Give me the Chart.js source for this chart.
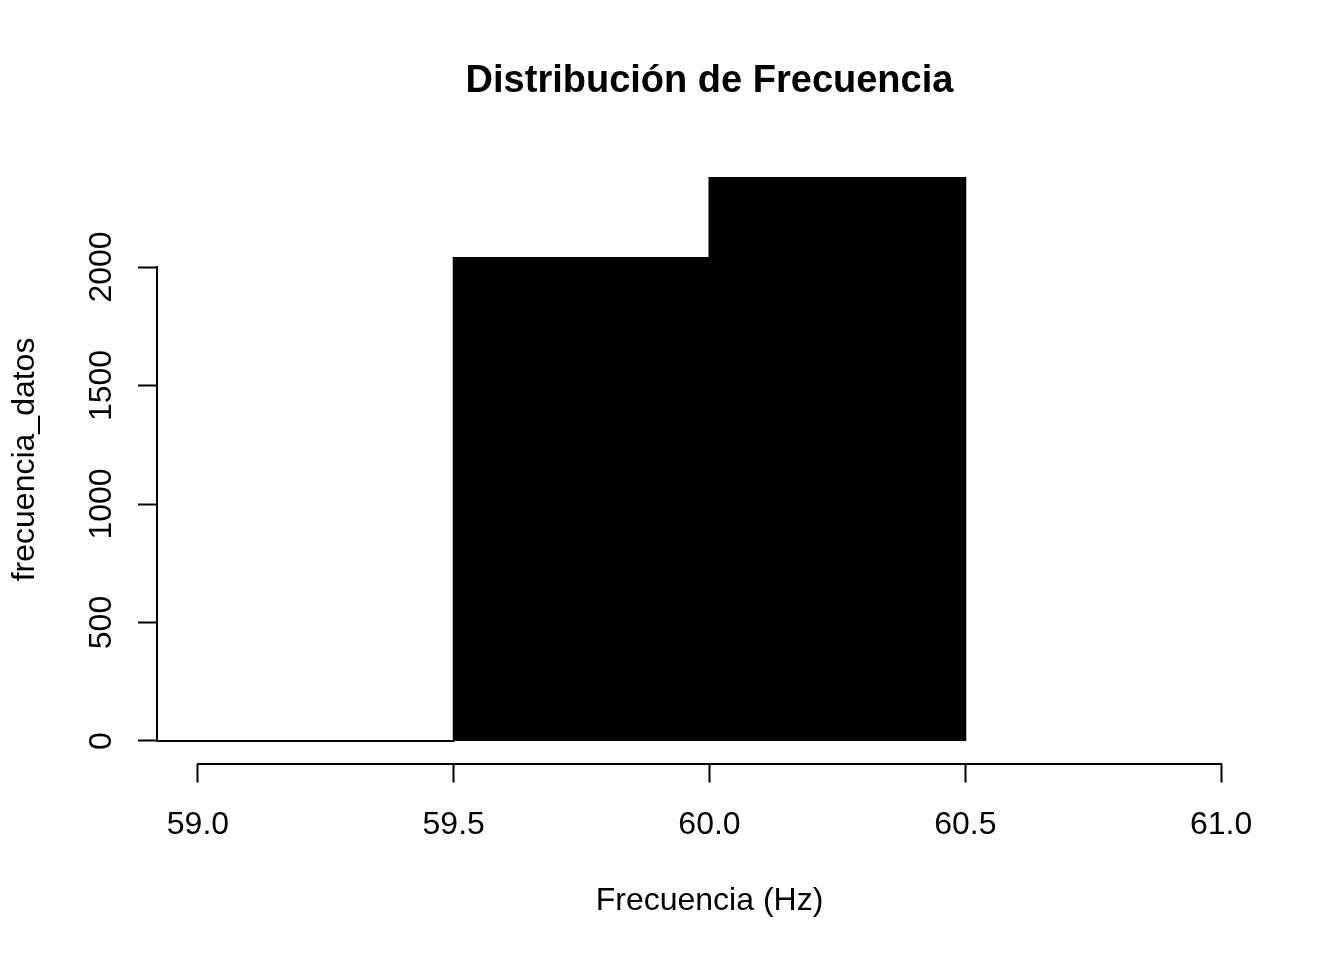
<!DOCTYPE html>
<html>
<head>
<meta charset="utf-8">
<script src="https://cdn.jsdelivr.net/npm/chart.js@4.4.0/dist/chart.umd.min.js"></script>
<style>
  html, body { margin: 0; padding: 0; background: #ffffff; }
  canvas { display: block; }
</style>
</head>
<body>
<canvas id="c" width="1344" height="960"></canvas>
<script>
// ---- data ----
const breaks = [58.5, 59.5, 60.0, 60.5];
const counts = [0, 2038, 2376];
const xTicks = [59.0, 59.5, 60.0, 60.5, 61.0];
const yTicks = [0, 500, 1000, 1500, 2000];
const titleText = 'Distribución de Frecuencia';
const xTitle = 'Frecuencia (Hz)';
const yTitle = 'frecuencia_datos';

const FONT = "'Liberation Sans', Arial, sans-serif";

// stepped outline points built from breaks/counts
const stepPoints = breaks.map((b, i) => ({ x: b, y: i < counts.length ? counts[i] : 0 }));

const xMin = 59.0, xMax = 61.0;
const xPad = (xMax - xMin) * 0.04;
const yMaxData = Math.max(...counts);
const yPad = yMaxData * 0.04;

const rAxes = {
  id: 'rAxes',
  afterDraw(chart) {
    const ctx = chart.ctx;
    const xs = chart.scales.x, ys = chart.scales.y;
    const ca = chart.chartArea;
    ctx.save();
    ctx.strokeStyle = '#000';
    ctx.lineWidth = 2;
    ctx.lineCap = 'butt';
    // x axis line
    const xb = Math.round(ca.bottom);
    ctx.beginPath();
    ctx.moveTo(xs.getPixelForValue(xTicks[0]) - 1, xb);
    ctx.lineTo(xs.getPixelForValue(xTicks[xTicks.length - 1]) + 1, xb);
    ctx.stroke();
    // y axis line
    const yl = Math.round(ca.left);
    ctx.beginPath();
    ctx.moveTo(yl, ys.getPixelForValue(yTicks[0]) + 1);
    ctx.lineTo(yl, ys.getPixelForValue(yTicks[yTicks.length - 1]) - 1);
    ctx.stroke();

    ctx.fillStyle = '#000';
    // title
    ctx.font = 'bold 38px ' + FONT;
    ctx.textAlign = 'center';
    ctx.textBaseline = 'middle';
    ctx.fillText(titleText, (ca.left + ca.right) / 2, 81.5);
    // x title
    ctx.font = '32px ' + FONT;
    ctx.fillText(xTitle, (ca.left + ca.right) / 2, 901.5);
    // y title
    ctx.save();
    ctx.translate(25, (ca.top + ca.bottom) / 2);
    ctx.rotate(-Math.PI / 2);
    ctx.fillText(yTitle, 0, 0);
    ctx.restore();
    ctx.restore();
  }
};

new Chart(document.getElementById('c'), {
  type: 'line',
  data: {
    datasets: [{
      data: stepPoints,
      stepped: 'before',
      fill: 'origin',
      backgroundColor: '#000000',
      borderColor: '#000000',
      borderWidth: 2,
      pointRadius: 0,
      tension: 0
    }]
  },
  options: {
    responsive: false,
    devicePixelRatio: 1,
    animation: false,
    layout: { padding: { left: 0, top: 155.4, right: 82, bottom: 96.5 } },
    plugins: { legend: { display: false }, title: { display: false }, tooltip: { enabled: false } },
    scales: {
      x: {
        type: 'linear',
        min: xMin - xPad,
        max: xMax + xPad,
        afterBuildTicks(scale) { scale.ticks = xTicks.map(v => ({ value: v })); },
        afterFit(scale) { scale.height = 100; },
        border: { display: false },
        grid: { display: true, drawOnChartArea: false, drawTicks: true, tickLength: 19, tickWidth: 2, tickColor: '#000' },
        ticks: {
          color: '#000',
          font: { family: FONT, size: 32 },
          padding: 23,
          maxRotation: 0,
          autoSkip: false,
          callback: v => v.toFixed(1)
        }
      },
      y: {
        type: 'linear',
        min: -yPad,
        max: yMaxData + yPad,
        afterBuildTicks(scale) { scale.ticks = yTicks.map(v => ({ value: v })); },
        afterFit(scale) { scale.width = 157; },
        border: { display: false },
        grid: { display: true, drawOnChartArea: false, drawTicks: true, tickLength: 19, tickWidth: 2, tickColor: '#000' },
        ticks: {
          color: '#000',
          font: { family: FONT, size: 32 },
          padding: 0,
          minRotation: 90,
          maxRotation: 90,
          crossAlign: 'center',
          autoSkip: false,
          callback: v => String(v)
        }
      }
    }
  },
  plugins: [rAxes]
});
</script>
</body>
</html>
